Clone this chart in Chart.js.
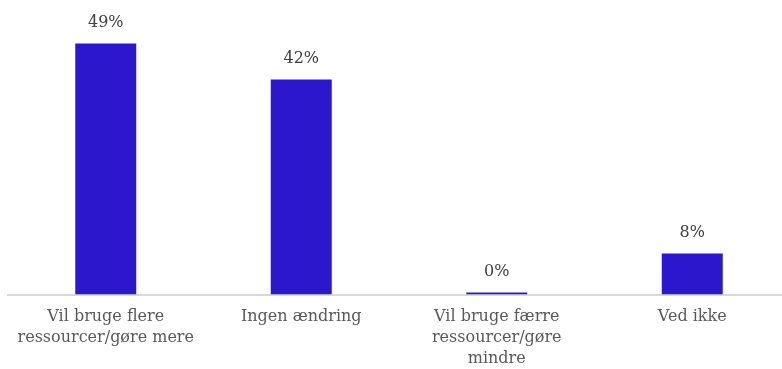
<!DOCTYPE html>
<html><head><meta charset="utf-8">
<script src="https://cdn.jsdelivr.net/npm/chart.js@4/dist/chart.umd.min.js"></script>
<style>html,body{margin:0;padding:0;background:#fff;overflow:hidden;width:782px;height:369px}#wrap{width:790px;height:381px;position:relative}</style>
</head><body><div id="wrap"><canvas id="c"></canvas></div>
<script>
const categories = [
  ["Vil bruge flere", "ressourcer/gøre mere"],
  ["Ingen ændring"],
  ["Vil bruge færre", "ressourcer/gøre", "mindre"],
  ["Ved ikke"]
];
const values = [49, 42, 0, 8];
const valueLabels = ["49%", "42%", "0%", "8%"];

const FONT = "'DejaVu Serif', 'Liberation Serif', serif";
const labelPlugin = {
  id: 'valLabels',
  afterDatasetsDraw(chart) {
    const ctx = chart.ctx;
    const meta = chart.getDatasetMeta(0);
    ctx.save();
    ctx.font = "16px " + FONT;
    ctx.fillStyle = "#404040";
    ctx.textAlign = "center";
    ctx.textBaseline = "middle";
    meta.data.forEach((bar, i) => {
      ctx.fillText(valueLabels[i], bar.x, bar.y - 21);
    });
    ctx.restore();
  }
};

new Chart(document.getElementById('c'), {
  type: 'bar',
  data: {
    labels: categories,
    datasets: [{
      data: values,
      backgroundColor: '#2b18cc',
      borderWidth: 0,
      minBarLength: 2,
      barPercentage: 0.312,
      categoryPercentage: 1
    }]
  },
  options: {
    responsive: true,
    maintainAspectRatio: false,
    animation: false,
    layout: { padding: { left: 8, right: 0, top: 0, bottom: 0 } },
    plugins: { legend: { display: false }, tooltip: { enabled: false } },
    scales: {
      x: {
        grid: { display: false, drawTicks: false },
        border: { display: true, color: '#d9d9d9', width: 2 },
        ticks: { color: '#595959', font: { family: FONT, size: 16, lineHeight: 1.3 }, padding: 12, maxRotation: 0, autoSkip: false }
      },
      y: {
        display: false,
        min: 0,
        max: 57.5
      }
    }
  },
  plugins: [labelPlugin]
});
</script>
</body></html>
